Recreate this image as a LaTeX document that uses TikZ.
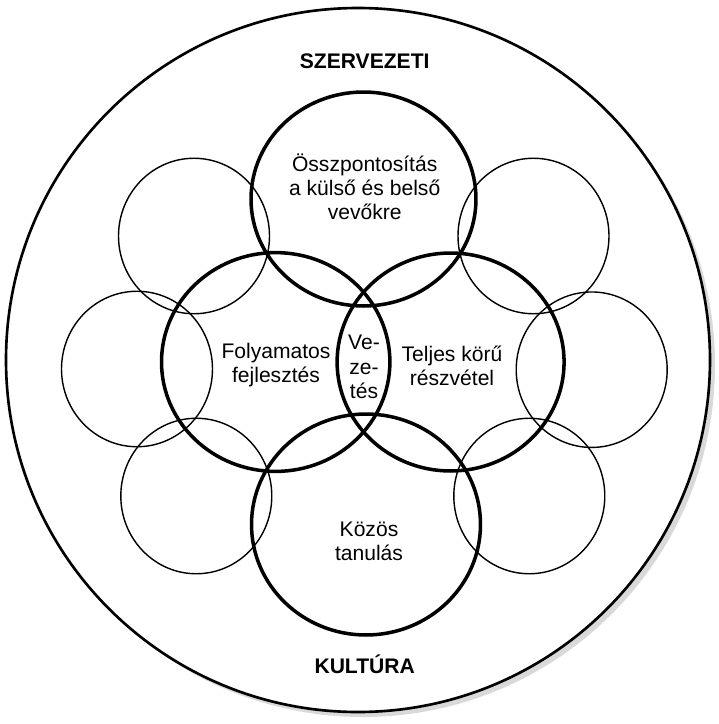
\documentclass[tikz,border=0pt]{standalone}
\usepackage{fontspec}
\setmainfont{Liberation Sans}
\usetikzlibrary{shapes.geometric}
\begin{document}
\begin{tikzpicture}[x=0.02cm, y=-0.02cm,
  ring/.style={ellipse, draw=black, inner sep=0pt, fill=none},
  thickring/.style={ring, line width=2pt},
  thinring/.style={ring, line width=0.8pt, minimum width=151pt*0.5691, minimum height=155.5pt*0.5691},
  label/.style={align=center, font=\fontsize{12}{13.8}\selectfont, inner sep=0pt},
  title/.style={font=\fontsize{12}{13.8}\selectfont\bfseries, inner sep=0pt}
]
\useasboundingbox (0,0) rectangle (719,724);
% drop shadow and outer culture circle
\fill[black!15] (363,365) circle[radius=352];
\filldraw[fill=white, draw=black, line width=1.5pt] (358,360) circle[radius=352];

% thin surrounding circles
\node[thinring] (tl) at (194,236) {};
\node[thinring] (tr) at (533.5,236) {};
\node[thinring] (ml) at (137,369) {};
\node[thinring] (mr) at (591.7,369.7) {};
\node[thinring] (bl) at (196.3,496) {};
\node[thinring] (br) at (529.3,496) {};

% four main principles
\node[thickring, minimum width=225pt*0.5691, minimum height=214pt*0.5691] (top) at (363.5,199) {};
\node[thickring, minimum width=228.4pt*0.5691, minimum height=218.8pt*0.5691] (left) at (275.7,362) {};
\node[thickring, minimum width=227pt*0.5691, minimum height=218pt*0.5691] (right) at (450.6,362) {};
\node[thickring, minimum width=229pt*0.5691, minimum height=221pt*0.5691] (bottom) at (366,524.5) {};

% texts
\node[title, anchor=base] (szerv) at (364.7,68.8) {SZERVEZETI};
\node[title, anchor=base] (kult) at (364.7,673) {KULTÚRA};
\node[label] (tfocus) at (364.7,187) {Összpontosítás\\a külső és belső\\vevőkre};
\node[label] (tfoly) at (276,365) {Folyamatos\\fejlesztés};
\node[label] (tteljes) at (452,366) {Teljes körű\\részvétel};
\node[label] (tvez) at (364,367) {Ve-\\ze-\\tés};
\node[label] (tkozos) at (369,541) {Közös\\tanulás};
\end{tikzpicture}
\end{document}
